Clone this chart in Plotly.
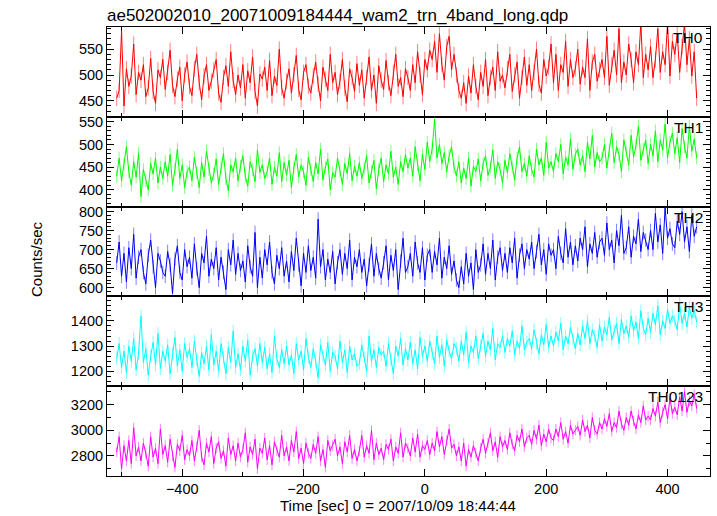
import numpy as np
import plotly.graph_objects as go
from plotly.subplots import make_subplots

# Light-curve bins (start time and bin width in seconds)
t_start = -508
bin_width = 4

th0 = [455, 470, 585, 440, 512, 478, 498, 560, 462, 505,
       490, 520, 458, 475, 532, 468, 445, 510, 495, 530,
       472, 505, 548, 480, 458, 492, 515, 450, 500, 525,
       478, 460, 512, 540, 485, 452, 498, 520, 470, 488,
       510, 530, 465, 447, 495, 518, 478, 545, 490, 462,
       500, 475, 520, 455, 508, 485, 535, 468, 440, 502,
       492, 515, 470, 528, 460, 498, 480, 550, 475, 455,
       488, 512, 465, 500, 538, 472, 452, 505, 520, 478,
       465, 498, 525, 482, 450, 515, 492, 470, 540, 485,
       505, 462, 488, 530, 475, 448, 512, 495, 468, 522,
       480, 510, 455, 495, 535, 470, 500, 445, 518, 490,
       472, 528, 485, 460, 505, 540, 478, 495, 458, 512,
       495, 470, 520, 485, 545, 500, 462, 530, 510, 548,
       530, 565, 505, 580, 520, 490, 555, 575, 510, 540,
       500, 470, 455, 485, 445, 498, 465, 520, 478, 452,
       505, 478, 530, 460, 495, 515, 470, 545, 488, 500,
       475, 512, 540, 468, 500, 525, 455, 495, 535, 480,
       520, 470, 505, 550, 482, 465, 530, 498, 515, 560,
       485, 540, 470, 520, 505, 565, 478, 530, 495, 512,
       550, 482, 515, 495, 570, 470, 525, 540, 488, 510,
       530, 495, 575, 480, 520, 548, 500, 590, 485, 525,
       500, 560, 530, 485, 545, 520, 600, 495, 540, 510,
       555, 495, 530, 590, 505, 545, 520, 600, 498, 565,
       540, 580, 505, 555, 600, 520, 570, 498, 545, 455]

th1 = [430, 470, 420, 455, 495, 440, 410, 462, 428, 480,
       385, 445, 420, 400, 458, 435, 470, 415, 450, 425,
       462, 430, 478, 410, 445, 490, 425, 455, 405, 440,
       450, 420, 472, 438, 405, 460, 428, 485, 445, 415,
       435, 468, 412, 450, 480, 425, 398, 455, 440, 470,
       420, 452, 475, 430, 408, 462, 445, 418, 488, 438,
       455, 425, 440, 470, 412, 450, 430, 482, 418, 460,
       432, 465, 405, 448, 478, 428, 455, 440, 410, 472,
       445, 418, 460, 435, 490, 422, 450, 468, 400, 438,
       428, 470, 442, 412, 458, 436, 480, 420, 452, 430,
       460, 425, 448, 475, 415, 440, 465, 402, 445, 470,
       418, 455, 435, 485, 428, 450, 412, 462, 440, 478,
       448, 470, 430, 495, 455, 420, 478, 445, 505, 462,
       490, 555, 470, 500, 458, 482, 440, 475, 495, 450,
       430, 462, 415, 448, 425, 470, 408, 452, 440, 468,
       420, 458, 475, 432, 450, 488, 425, 462, 445, 415,
       465, 438, 480, 450, 422, 470, 495, 440, 458, 430,
       475, 445, 428, 490, 455, 470, 432, 505, 448, 462,
       440, 480, 462, 500, 435, 472, 455, 512, 445, 478,
       490, 455, 475, 440, 505, 468, 520, 450, 482, 462,
       470, 500, 448, 488, 525, 460, 495, 478, 440, 510,
       485, 455, 520, 472, 498, 540, 465, 490, 510, 458,
       500, 475, 530, 462, 510, 488, 545, 470, 505, 525,
       480, 515, 460, 535, 495, 470, 540, 485, 512, 470]

th2 = [665, 720, 630, 690, 615, 705, 650, 740, 625, 680,
       700, 640, 610, 685, 725, 655, 600, 690, 670, 640,
       630, 695, 660, 585, 675, 710, 640, 620, 700, 655,
       680, 625, 715, 650, 600, 690, 665, 735, 630, 675,
       650, 705, 620, 680, 640, 595, 700, 660, 725, 635,
       690, 645, 670, 615, 710, 655, 630, 745, 600, 680,
       625, 700, 660, 720, 640, 610, 685, 650, 705, 630,
       670, 615, 695, 645, 730, 660, 605, 690, 640, 710,
       645, 680, 625, 780, 655, 700, 620, 675, 640, 695,
       610, 665, 700, 635, 690, 650, 725, 620, 680, 655,
       700, 640, 675, 605, 660, 715, 630, 690, 650, 625,
       665, 710, 620, 685, 645, 700, 595, 670, 730, 640,
       655, 690, 630, 720, 665, 640, 705, 620, 685, 700,
       640, 695, 660, 730, 625, 680, 650, 710, 635, 670,
       620, 600, 655, 610, 690, 630, 665, 595, 700, 640,
       660, 715, 635, 690, 650, 725, 620, 680, 705, 645,
       690, 640, 705, 665, 730, 625, 685, 715, 650, 700,
       675, 720, 650, 695, 740, 660, 700, 635, 715, 685,
       700, 650, 735, 690, 665, 755, 680, 720, 660, 710,
       670, 730, 700, 760, 655, 715, 690, 745, 680, 720,
       730, 685, 770, 700, 725, 665, 750, 710, 790, 690,
       705, 760, 680, 735, 715, 780, 695, 745, 725, 700,
       750, 700, 795, 720, 765, 690, 810, 730, 755, 715,
       705, 775, 740, 800, 720, 760, 695, 790, 735, 760]

th3 = [1250, 1310, 1215, 1280, 1195, 1300, 1240, 1330, 1205, 1270,
       1420, 1235, 1290, 1185, 1260, 1315, 1225, 1350, 1210, 1280,
       1240, 1305, 1190, 1270, 1335, 1220, 1285, 1200, 1310, 1255,
       1290, 1215, 1320, 1245, 1180, 1275, 1230, 1300, 1205, 1345,
       1225, 1280, 1200, 1310, 1255, 1190, 1295, 1235, 1360, 1215,
       1270, 1205, 1300, 1240, 1325, 1185, 1260, 1290, 1220, 1310,
       1235, 1295, 1210, 1270, 1195, 1340, 1250, 1215, 1285, 1230,
       1300, 1225, 1265, 1190, 1310, 1245, 1280, 1205, 1330, 1255,
       1215, 1290, 1240, 1175, 1305, 1260, 1225, 1315, 1200, 1275,
       1260, 1210, 1320, 1235, 1285, 1195, 1300, 1245, 1270, 1220,
       1230, 1305, 1255, 1200, 1340, 1240, 1285, 1215, 1295, 1265,
       1280, 1220, 1310, 1245, 1190, 1300, 1260, 1330, 1225, 1290,
       1245, 1315, 1230, 1285, 1210, 1335, 1260, 1300, 1240, 1320,
       1270, 1230, 1340, 1255, 1305, 1220, 1325, 1280, 1250, 1310,
       1290, 1240, 1320, 1265, 1355, 1235, 1300, 1275, 1340, 1250,
       1300, 1350, 1260, 1320, 1285, 1370, 1245, 1310, 1295, 1340,
       1275, 1330, 1300, 1360, 1265, 1320, 1290, 1380, 1285, 1315,
       1330, 1290, 1365, 1310, 1270, 1345, 1305, 1385, 1295, 1340,
       1300, 1355, 1320, 1390, 1285, 1340, 1310, 1375, 1330, 1290,
       1350, 1305, 1380, 1330, 1400, 1310, 1365, 1340, 1295, 1385,
       1320, 1375, 1345, 1415, 1325, 1360, 1390, 1310, 1405, 1350,
       1380, 1335, 1420, 1360, 1395, 1330, 1440, 1370, 1345, 1410,
       1355, 1430, 1385, 1460, 1345, 1400, 1370, 1445, 1390, 1420,
       1400, 1365, 1470, 1390, 1430, 1375, 1455, 1410, 1440, 1395]

th0123 = [2830, 2950, 2700, 2880, 2760, 2920, 2740, 3020, 2800, 2870,
          2760, 2900, 2820, 2720, 2950, 2790, 2860, 2740, 3010, 2810,
          2880, 2750, 2930, 2800, 2710, 2890, 2840, 2960, 2770, 2850,
          2800, 2920, 2760, 2870, 3000, 2790, 2730, 2900, 2830, 2950,
          2740, 2860, 2910, 2780, 2840, 2720, 2940, 2810, 2880, 2760,
          2900, 2790, 2850, 2980, 2750, 2870, 2810, 2930, 2700, 2860,
          2820, 2940, 2770, 2880, 2730, 2910, 2840, 2790, 2960, 2800,
          2870, 2760, 2920, 2830, 2990, 2780, 2860, 2740, 2900, 2820,
          2780, 2890, 2820, 2950, 2760, 2850, 2710, 2920, 2840, 2880,
          2930, 2800, 2870, 2740, 2910, 2830, 2960, 2780, 2850, 2760,
          2840, 2960, 2790, 2880, 2820, 3000, 2770, 2900, 2810, 2860,
          2770, 2890, 2850, 2930, 2760, 2870, 2820, 2980, 2790, 2900,
          2860, 2800, 2940, 2830, 2970, 2790, 2880, 2850, 2920, 2810,
          2900, 2840, 2990, 2870, 2950, 2810, 2920, 3010, 2860, 2890,
          2800, 2870, 2760, 2900, 2720, 2850, 2790, 2880, 2820, 2760,
          2860, 2930, 2820, 2900, 2980, 2840, 2910, 2790, 2950, 2870,
          2920, 2850, 2980, 2890, 2840, 2960, 2910, 3010, 2870, 2940,
          2960, 2890, 3000, 2930, 3040, 2880, 2970, 2910, 3010, 2940,
          2920, 3010, 2950, 3060, 2930, 2990, 2900, 3040, 2970, 3000,
          3030, 2960, 3080, 2990, 3040, 2940, 3100, 3000, 2970, 3060,
          3010, 3090, 3030, 3130, 2990, 3060, 3020, 3150, 3050, 3000,
          3100, 3040, 3150, 3070, 3010, 3120, 3060, 3190, 3080, 3110,
          3080, 3170, 3110, 3220, 3060, 3140, 3200, 3090, 3250, 3130,
          3180, 3120, 3260, 3150, 3300, 3140, 3230, 3190, 3280, 3170]

# typical 1-sigma error bar of each band (counts/sec)
errors = [15, 14, 18, 25, 40]

series = [th0, th1, th2, th3, th0123]
names = ["TH0", "TH1", "TH2", "TH3", "TH0123"]
colors = ["#ff0000", "#00ff00", "#0000ff", "#00ffff", "#ff00ff"]
err_colors = ["rgba(255,0,0,0.5)", "rgba(0,255,0,0.5)", "rgba(0,0,255,0.5)",
              "rgba(0,255,255,0.5)", "rgba(255,0,255,0.5)"]
y_ranges = [[419, 593], [363, 561], [577, 813], [1141, 1497], [2643, 3344]]
y_ticks = [[450, 500, 550], [400, 450, 500, 550], [600, 650, 700, 750, 800],
           [1200, 1300, 1400], [2800, 3000, 3200]]
y_minor = [10, 10, 10, 20, 100]
x_range = [-524, 470]
x_ticks = [-400, -200, 0, 200, 400]

x_title = "Time [sec] 0 = 2007/10/09 18:44:44"
y_title = "Counts/sec"
title = "ae502002010_20071009184444_wam2_trn_4band_long.qdp"

FONT = "Liberation Sans, Arial, Helvetica, sans-serif"

W, H = 717, 516
ML, MR, MT, MB = 107, 7, 27, 40
PW, PH = W - ML - MR, H - MT - MB

# panel domains (paper coords) top to bottom
domains = [[0.8, 1.0], [0.6, 0.8], [0.4, 0.6], [0.2, 0.4], [0.0, 0.2]]

fig = make_subplots(rows=5, cols=1, shared_xaxes=True, vertical_spacing=0)

for i, (vals, nm, col) in enumerate(zip(series, names, colors)):
    t = t_start + bin_width * np.arange(len(vals))
    fig.add_trace(go.Scatter(x=t, y=vals, mode="lines", name=nm,
                             line=dict(color=col, width=1), showlegend=False,
                             error_y=dict(type="constant", value=errors[i], symmetric=True,
                                          color=err_colors[i], thickness=1, width=0)),
                  row=i + 1, col=1)
    fig.update_yaxes(row=i + 1, col=1, domain=domains[i], range=y_ranges[i],
                     tickmode="array", tickvals=y_ticks[i], showgrid=False, zeroline=False,
                     showline=True, linecolor="black", linewidth=1, mirror="ticks",
                     ticks="inside", ticklen=7, tickcolor="black", tickwidth=1,
                     minor=dict(tickmode="linear", dtick=y_minor[i], tick0=0, ticks="inside",
                                ticklen=4, tickcolor="black", showgrid=False),
                     tickfont=dict(family=FONT, size=14.5, color="black"))
    fig.update_xaxes(row=i + 1, col=1, range=x_range, tickmode="array", tickvals=x_ticks,
                     showgrid=False, zeroline=False, showline=True, linecolor="black",
                     linewidth=1, mirror="ticks", ticks="inside", ticklen=7,
                     tickcolor="black", tickwidth=1,
                     minor=dict(tickmode="linear", dtick=100, tick0=0, ticks="inside",
                                ticklen=4, tickcolor="black", showgrid=False),
                     showticklabels=(i == 4),
                     tickfont=dict(family=FONT, size=14.5, color="black"))
    top = domains[i][1]
    fig.add_annotation(text=nm, xref="paper", yref="paper", x=(705 - ML) / PW, y=top,
                       xanchor="right", yanchor="top", showarrow=False,
                       font=dict(family=FONT, size=15.5, color="black"))

fig.add_annotation(text=x_title, xref="paper", yref="paper", x=(398 - ML) / PW,
                   y=-(505 - (H - MB)) / PH, xanchor="center", yanchor="middle",
                   showarrow=False, font=dict(family=FONT, size=15, color="black"))

fig.add_annotation(text=y_title, xref="paper", yref="paper", x=(36 - ML) / PW,
                   y=((H - MB) - 259) / PH, xanchor="center", yanchor="middle",
                   textangle=-90, showarrow=False,
                   font=dict(family=FONT, size=15, color="black"))

fig.update_layout(
    width=W, height=H,
    margin=dict(l=ML, r=MR, t=MT, b=MB),
    plot_bgcolor="white", paper_bgcolor="white",
    title=dict(text=title, x=ML / W, xanchor="left", yref="container",
               y=1 - 14.7 / H, yanchor="middle",
               font=dict(family=FONT, size=17, color="black")),
    font=dict(family=FONT, color="black"),
)

fig.write_html("out.html", config={"displayModeBar": False},
               post_script="document.body.style.margin='0';")
